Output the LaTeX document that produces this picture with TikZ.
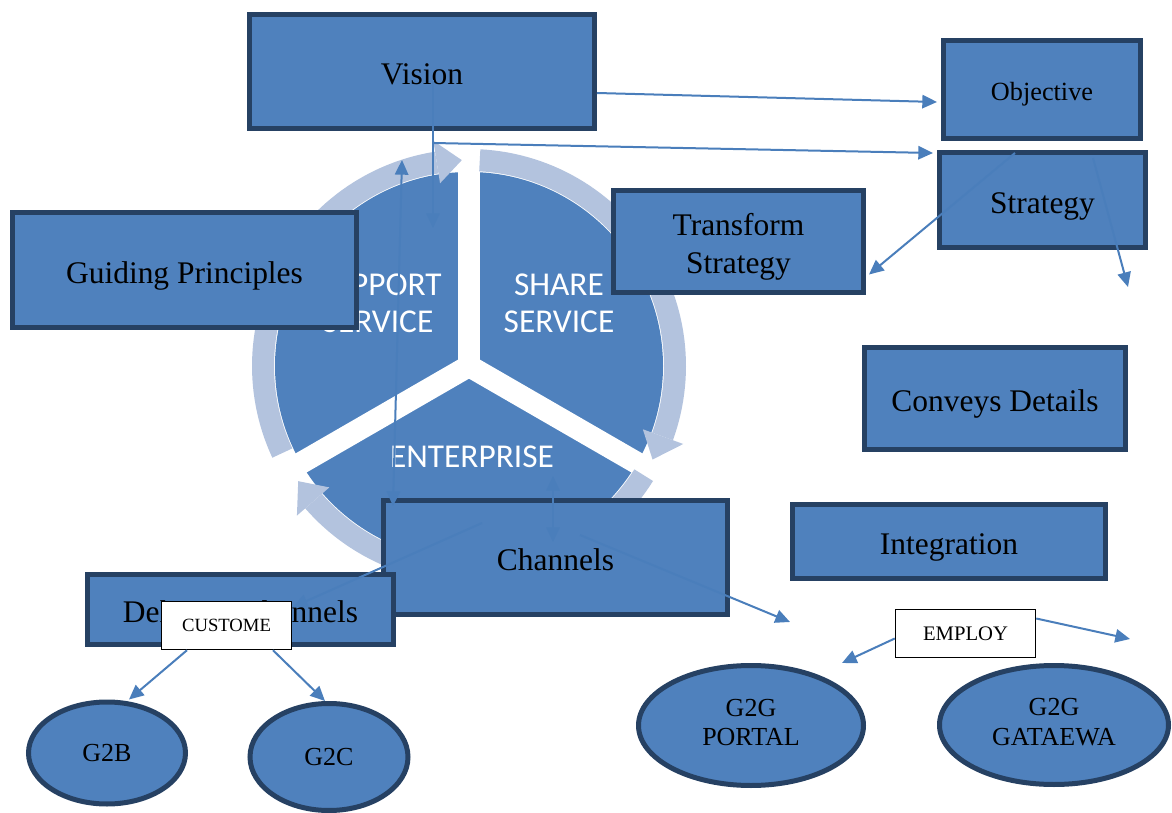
\documentclass[tikz,border=0pt]{standalone}
\usepackage{fontspec}
\setmainfont{Liberation Serif}
\newfontfamily\calibri{Carlito}
\usetikzlibrary{shapes.geometric,arrows.meta,calc}
\definecolor{boxblue}{HTML}{4F81BD}
\definecolor{bdr}{HTML}{264163}
\definecolor{ringc}{HTML}{B3C3DE}
\definecolor{arrc}{HTML}{4A7EBB}
\begin{document}
\begin{tikzpicture}[x=0.75pt,y=-0.75pt,
  bx/.style 2 args={draw=bdr, fill=boxblue, line width=3.75pt, inner sep=0pt,
    minimum width=#1*0.75pt, minimum height=#2*0.75pt,
    font=\fontsize{23.6}{28.5}\selectfont, align=center,
    text height=21.6pt, text depth=2pt},
  el/.style 2 args={ellipse, draw=bdr, fill=boxblue, line width=3.75pt, inner sep=0pt,
    minimum width=#1*0.75pt, minimum height=#2*0.75pt,
    font=\fontsize{19.5}{22}\selectfont, align=center},
  wb/.style 2 args={draw=black, fill=white, line width=1.1pt, inner sep=0pt,
    minimum width=#1*0.75pt, minimum height=#2*0.75pt},
  arr/.style={draw=arrc, line width=1.5pt, -{Triangle[length=11pt,width=10pt]}},
  darr/.style={draw=arrc, line width=1.5pt, {Triangle[length=11pt,width=10pt]}-{Triangle[length=11pt,width=10pt]}},
  cyc/.style={text=white, font=\calibri\fontsize{25}{28}\selectfont, align=center}]
\useasboundingbox (0,0) rectangle (1172,813);
\clip (0,0) rectangle (1172,813);
% ---- cycle graphic ----
\begin{scope}[shift={(469,366)}]
  \fill[boxblue] (0,0) circle[radius=145.5pt];
  \foreach \a in {-90,-210,-330} \draw[white, line width=16.5pt] (0,0) -- (\a:197);
  \fill[white] (0,0) circle[radius=8pt];
  % left arc
  \fill[ringc] plot[domain=155:261, samples=60] (\x:195) -- plot[domain=261:155, samples=60] (\x:217) -- cycle;
  \fill[ringc] (261:185) -- (268:206) -- (261:228) -- cycle;
  % right arc
  \fill[ringc] plot[domain=-87:20, samples=60] (\x:195) -- plot[domain=20:-87, samples=60] (\x:217) -- cycle;
  \fill[ringc] (20:185) -- (27:206) -- (20:228) -- cycle;
  % bottom arc
  \fill[ringc] plot[domain=32:139, samples=60] (\x:195) -- plot[domain=139:32, samples=60] (\x:217) -- cycle;
  \fill[ringc] (139:185) -- (146:206) -- (139:228) -- cycle;
\end{scope}
\node[cyc] (support) at (378,303) {SUPPORT\\SERVICE};
\node[cyc] (share) at (559,303) {SHARE\\SERVICE};
\node[cyc] (enterprise) at (472,457) {ENTERPRISE};
% ---- boxes ----
\node[bx={345}{114}] (vision) at (422,71.5) {Vision};
\node[bx={197}{98}, font=\fontsize{19.7}{22}\selectfont, text height=18pt, text depth=1.7pt] (objective) at (1042,89.5) {Objective};
\node[bx={206}{95}] (strategy) at (1042.5,200) {Strategy};
\node[bx={250}{102}, text height=50.1pt, text depth=2pt] (transform) at (738.5,241.5) {Transform\\Strategy};
\node[bx={344}{115}] (guiding) at (184.5,270) {Guiding Principles};
\node[bx={261}{102}] (conveys) at (995,398.5) {Conveys Details};
\node[bx={313}{74}] (integration) at (949,541.5) {Integration};
\node[bx={344}{114}] (channels) at (555.5,557.5) {Channels};
\node[bx={306}{70}] (delivery) at (240.5,609.5) {Delivery Channels};
\node[wb={130}{48}, font=\fontsize{14}{16}\selectfont] (custome) at (226.5,625.5) {CUSTOME};
\node[wb={140}{48}, font=\fontsize{15.5}{18}\selectfont] (employ) at (965.5,633.5) {EMPLOY\hspace{12.75pt}};
% ---- ellipses ----
\node[el={157}{102}] (g2b) at (107,753) {G2B};
\node[el={158}{107}] (g2c) at (329,757) {G2C};
\node[el={225}{120}, text height=33.4pt, text depth=3pt] (portal) at (751,725.5) {G2G\\PORTAL};
\node[el={229}{119}, text height=33.4pt, text depth=3pt] (gataewa) at (1054,725) {G2G\\GATAEWA};
% ---- connectors ----
\coordinate (vbranch) at (433,143);
\coordinate (vdown) at (433,228);
\coordinate (d1a) at (402,160);
\coordinate (d1b) at (393,506);
\coordinate (d2a) at (553,476);
\coordinate (d2b) at (553,542);
\coordinate (dl) at (293,607);
\coordinate (ch2) at (790,622);
\coordinate (st2) at (1128,287);
\coordinate (em1) at (842,663);
\coordinate (em2) at (1130,639);
\draw[arr] ($(vision.east)+(0,21.5)$) -- ($(objective.west)+(-4,12.5)$);
\draw[arr] ($(vision.center)+(11,8.5)$) -- (vdown);
\draw[arr] (vbranch) -- ($(strategy.west)+(-4,-47)$);
\draw[darr] (d1a) -- (d1b);
\draw[darr] (d2a) -- (d2b);
\draw[arr] ($(channels.center)+(-73.5,-34.5)$) -- (dl);
\draw[arr] ($(channels.center)+(24.5,-22.5)$) -- (ch2);
\draw[arr] ($(strategy.north)+(-27.5,3)$) -- ($(transform.east)+(3,33)$);
\draw[arr] ($(strategy.north)+(50.5,8)$) -- (st2);
\draw[arr] ($(custome.south)+(-39.5,0)$) -- ($(g2b.north)+(22,0)$);
\draw[arr] ($(custome.south)+(46.5,0)$) -- ($(g2c.north)+(-4,0)$);
\draw[arr] ($(employ.west)+(0,5)$) -- (em1);
\draw[arr] ($(employ.east)+(0,-15)$) -- (em2);
\end{tikzpicture}
\end{document}
